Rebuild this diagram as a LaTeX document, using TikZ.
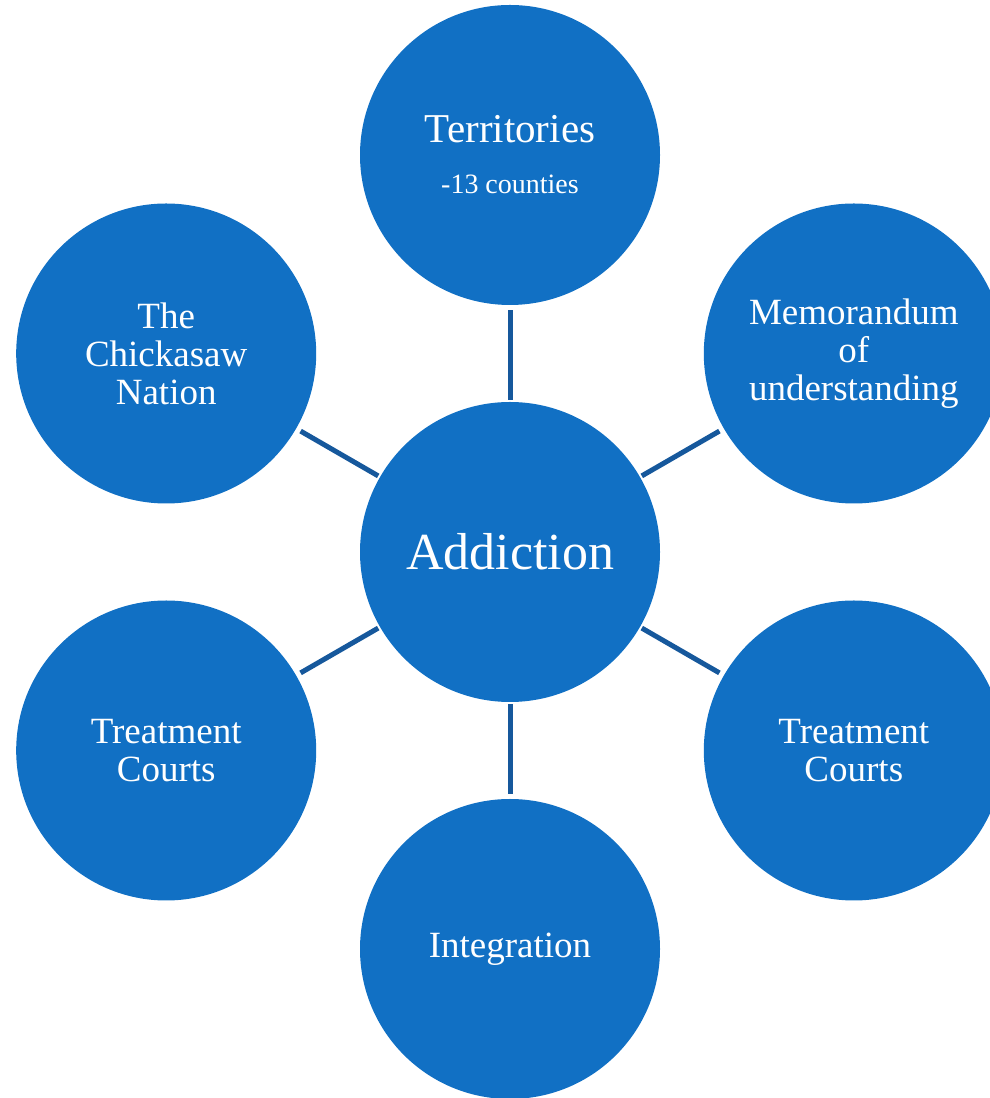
\documentclass[tikz,border=0pt]{standalone}
\usepackage{fontspec}
\setmainfont{Liberation Serif}
\definecolor{bubblefill}{RGB}{17,112,196}
\definecolor{spokeline}{RGB}{22,88,156}
\begin{document}
\begin{tikzpicture}[x=1pt, y=1pt, line join=round,
		declare function={d=397;},
		bubble/.style={circle, fill=bubblefill, minimum size=300pt, inner sep=0pt,
			text=white, align=center, font=\fontsize{37}{38}\selectfont},
		spoke/.style={draw=spokeline, line width=5pt, shorten <=2pt, shorten >=5pt}]
		\useasboundingbox (0,0) rectangle (989,1098);
		\node[bubble, font=\fontsize{52}{52}\selectfont] (A) at (510,546) {Addiction};
		\node[bubble] (T) at ([shift={(90:d)}]A)
			{\fontsize{41}{41}\selectfont Territories\\[13pt]\fontsize{28}{28}\selectfont -13 counties};
		\node[bubble] (M) at ([shift={(30:d)}]A) {Memorandum\\of\\understanding};
		\node[bubble] (R) at ([shift={(-30:d)}]A) {Treatment\\Courts};
		\node[bubble] (I) at ([shift={(-90:d)}]A) {Integration};
		\node[bubble] (L) at ([shift={(210:d)}]A) {Treatment\\Courts};
		\node[bubble] (C) at ([shift={(150:d)}]A) {The\\Chickasaw\\Nation};
		\foreach \x in {T,M,R,I,L,C}{
			\draw[spoke] (A) -- (\x);
		}
		\end{tikzpicture}
\end{document}
